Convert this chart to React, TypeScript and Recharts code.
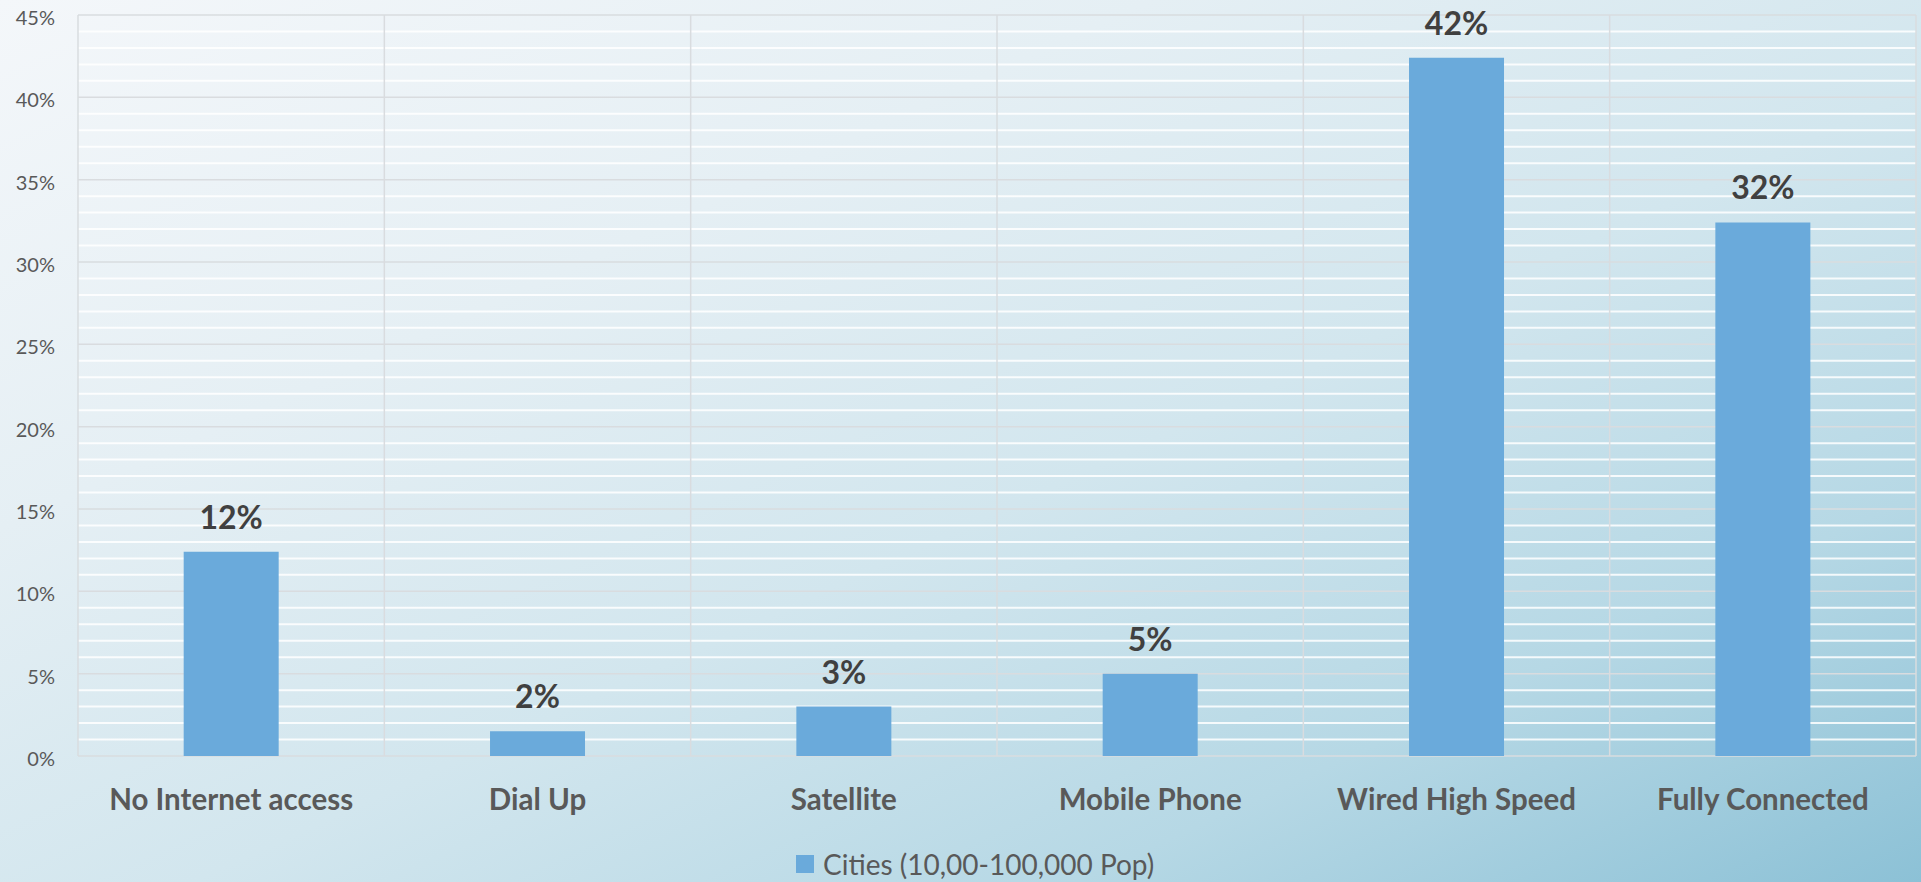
import React from "react";
import { BarChart, Bar, XAxis, YAxis, CartesianGrid, LabelList, Legend } from "recharts";

const categories = ["No Internet access", "Dial Up", "Satellite", "Mobile Phone", "Wired High Speed", "Fully Connected"];
const cityValues = [12.4, 1.5, 3.0, 5.0, 42.4, 32.4];
const seriesName = "Cities (10,00-100,000 Pop)";
const majorTicks = [0, 5, 10, 15, 20, 25, 30, 35, 40, 45];
const minorTicks = Array.from({ length: 46 }, (_, i) => i).filter((v) => v % 5 !== 0);
const yMax = 45;

const data = categories.map((c, i) => ({ name: c, value: cityValues[i] }));

const yPos = (props: any, v: number) => {
  const o = props.offset;
  return o.top + o.height * (1 - v / yMax);
};

const minorGen = (props: any) => minorTicks.map((v) => yPos(props, v));
const majorGen = (props: any) => majorTicks.map((v) => yPos(props, v));
const vertGen = (props: any) => {
  const o = props.offset;
  return Array.from({ length: categories.length + 1 }, (_, i) => o.left + (i * o.width) / categories.length);
};

const LegendContent = () => (
  <div
    style={{
      display: "flex",
      alignItems: "center",
      fontFamily: "Lato, sans-serif",
      fontSize: 28,
      lineHeight: "34px",
      color: "#595959",
      whiteSpace: "nowrap",
    }}
  >
    <span style={{ display: "inline-block", width: 18, height: 18, background: "#6aaadb", marginRight: 9 }} />
    <span>{seriesName}</span>
  </div>
);

export default function App() {
  return (
    <div
      style={{
        position: "fixed",
        left: 0,
        top: 0,
        width: 1921,
        height: 882,
        background:
          "linear-gradient(to bottom right, #f4f7fa 0%, #e5eff4 30%, #d2e6ee 55%, #b6d8e5 78%, #8cc1d6 100%)",
      }}
    >
      <BarChart width={1921} height={882} data={data} margin={{ top: 15, right: 5, bottom: 56, left: 0 }} barCategoryGap="34.5%">
        <CartesianGrid vertical={false} horizontalCoordinatesGenerator={minorGen} stroke="#ffffff" strokeOpacity={0.85} strokeWidth={2} />
        <CartesianGrid horizontalCoordinatesGenerator={majorGen} verticalCoordinatesGenerator={vertGen} stroke="#d9dcdf" strokeWidth={1.5} />
        <XAxis
          dataKey="name"
          axisLine={false}
          tickLine={false}
          tickSize={0}
          height={70}
          tickMargin={33}
          interval={0}
          tick={{ fill: "#595959", fontSize: 29.5, fontWeight: 700, fontFamily: "Lato, sans-serif" }}
        />
        <YAxis
          domain={[0, yMax]}
          ticks={majorTicks}
          width={78}
          axisLine={false}
          tickLine={false}
          tickSize={0}
          tickMargin={23}
          tickFormatter={(v: number) => `${v}%`}
          tick={{ fill: "#595959", fontSize: 20, fontFamily: "Lato, sans-serif", dy: 3 }}
        />
        <Legend
          verticalAlign="middle"
          align="center"
          content={<LegendContent />}
          wrapperStyle={{ top: 847, left: 796, width: "auto", height: "auto" }}
        />
        <Bar dataKey="value" name={seriesName} fill="#6aaadb" isAnimationActive={false}>
          <LabelList
            dataKey="value"
            position="top"
            offset={23}
            formatter={(v: number) => `${Math.round(v)}%`}
            style={{ fill: "#404040", fontSize: 32, fontWeight: 700, fontFamily: "Lato, sans-serif" }}
          />
        </Bar>
      </BarChart>
    </div>
  );
}
